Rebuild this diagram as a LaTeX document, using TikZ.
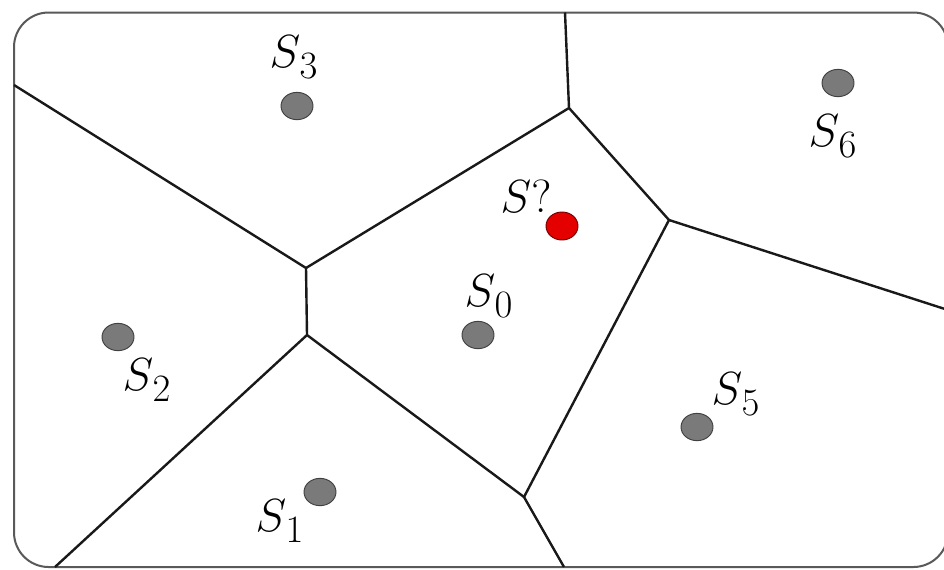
\documentclass[tikz,border=0pt]{standalone}
\newcommand{\lowsub}[1]{S_{\mkern1mu\lower2.5pt\hbox{$\scriptstyle #1$}}}
\tikzset{
  frame/.style={draw=black!65, line width=1.5pt, rounded corners=26pt},
  edge/.style={draw=black!90, line width=1.8pt},
  site/.style={ellipse, draw=black!75, fill=black!52, line width=0.7pt, minimum width=24pt, minimum height=20.5pt, inner sep=0pt},
  query/.style={ellipse, draw=red!45!black, fill=red!90!black, line width=0.7pt, minimum width=24pt, minimum height=21pt, inner sep=0pt},
  lab/.style={inner sep=0pt, font=\Huge, scale=1.4}
}
\usetikzlibrary{shapes.geometric}
\begin{document}
\begin{tikzpicture}[x=0.75pt,y=-0.75pt]
\useasboundingbox (0,0) rectangle (944,569);
\fill[white] (0,0) rectangle (944,569);
\draw[frame] (14,12.5) rectangle (948,567);
% Voronoi vertices
\coordinate (A) at (306,268);
\coordinate (B) at (307,335);
\coordinate (C) at (569,108);
\coordinate (D) at (669,220);
\coordinate (E) at (524,497);
% free ends on the frame
\coordinate (eL) at (14,85);
\coordinate (eT) at (565,12.5);
\coordinate (eR) at (948,310);
\coordinate (eB) at (564,567);
\coordinate (eBL) at (55,567);
\draw[edge] (eL) -- (A) -- (B) -- (eBL);
\draw[edge] (A) -- (C) -- (eT);
\draw[edge] (C) -- (D) -- (eR);
\draw[edge] (D) -- (E) -- (eB);
\draw[edge] (B) -- (E);
% sites
\node[site] (s3) at (297,106) {};
\node[site] (s6) at (838,83) {};
\node[query] (sq) at (562,226) {};
\node[site] (s0) at (478,335) {};
\node[site] (s2) at (118,337) {};
\node[site] (s5) at (697,427) {};
\node[site] (s1) at (320,492) {};
% labels
\node[lab] (l3) at (294,57) {$\lowsub{3}$};
\node[lab] (l6) at (833,136) {$\lowsub{6}$};
\node[lab] (lq) at (526,196) {$S?$};
\node[lab] (l0) at (489,296) {$\lowsub{0}$};
\node[lab] (l2) at (147,380) {$\lowsub{2}$};
\node[lab] (l5) at (736,394) {$\lowsub{5}$};
\node[lab] (l1) at (280,521) {$\lowsub{1}$};
\end{tikzpicture}
\end{document}
